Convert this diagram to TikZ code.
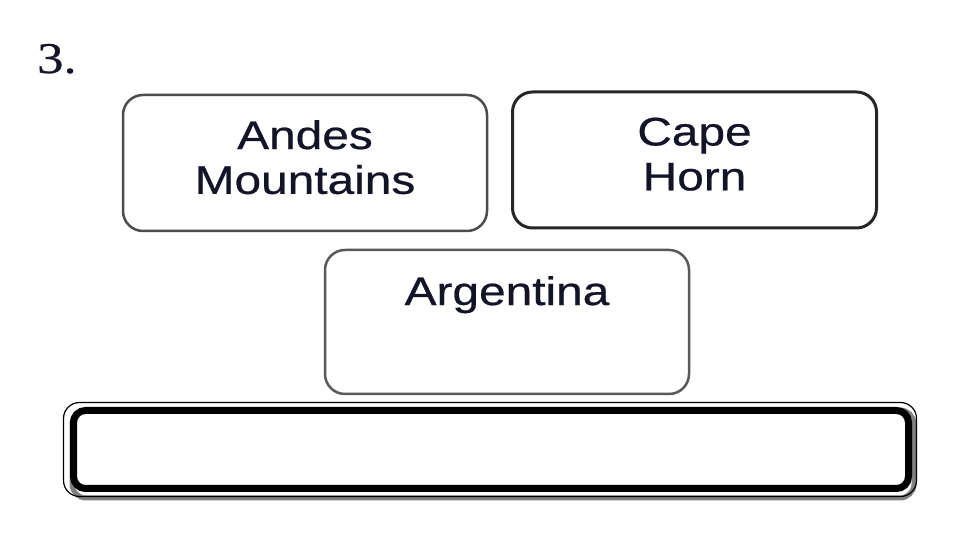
\documentclass[tikz,border=0pt]{standalone}
\usepackage{fontspec}
\usetikzlibrary{calc}
\newfontfamily\boxfont[FakeStretch=1.2,FakeBold=0.6]{Liberation Sans}
\newfontfamily\numfont[FakeStretch=1.2,FakeBold=0.6]{Liberation Serif}
\definecolor{textcol}{rgb}{0.08,0.08,0.16}
\begin{document}
\begin{tikzpicture}[x=1bp,y=1bp,
    topic/.style={draw,rectangle,rounded corners=20bp,line width=2.5bp,
      minimum width=364bp,minimum height=136bp,align=center,text depth=12bp,
      text=textcol,font=\boxfont\fontsize{40}{45}\selectfont}]
  \useasboundingbox (0,0) rectangle (960,540);
  \node (Num) at (37bp,467bp) [anchor=base west,text=textcol,inner sep=0pt,font=\numfont\fontsize{44}{48}\selectfont] {3.};
  \node (Andes) at (305bp,377bp) [topic,draw=black!70] {Andes\\Mountains};
  \node (Cape) at (694.5bp,380bp) [topic,draw=black!85,line width=3bp] {Cape\\Horn};
  \node (Argentina) at (507bp,218bp) [topic,draw=black!65,minimum height=144bp] {Argentina\\[6bp]~};
  % empty answer box
  \node (Answer) at (493bp,86bp) [draw=black!50,rectangle,rounded corners=14bp,line width=5bp,
    minimum width=842bp,minimum height=88bp] {};
  \draw [black,line width=7bp,rounded corners=12bp] ($(Answer.south west)+(4bp,12bp)$) rectangle ($(Answer.north east)+(-8bp,-3bp)$);
  \draw [black,line width=1.2bp,rounded corners=16bp] ($(Answer.south west)+(-6bp,4bp)$) rectangle ($(Answer.north east)+(0bp,5bp)$);
\end{tikzpicture}
\end{document}
